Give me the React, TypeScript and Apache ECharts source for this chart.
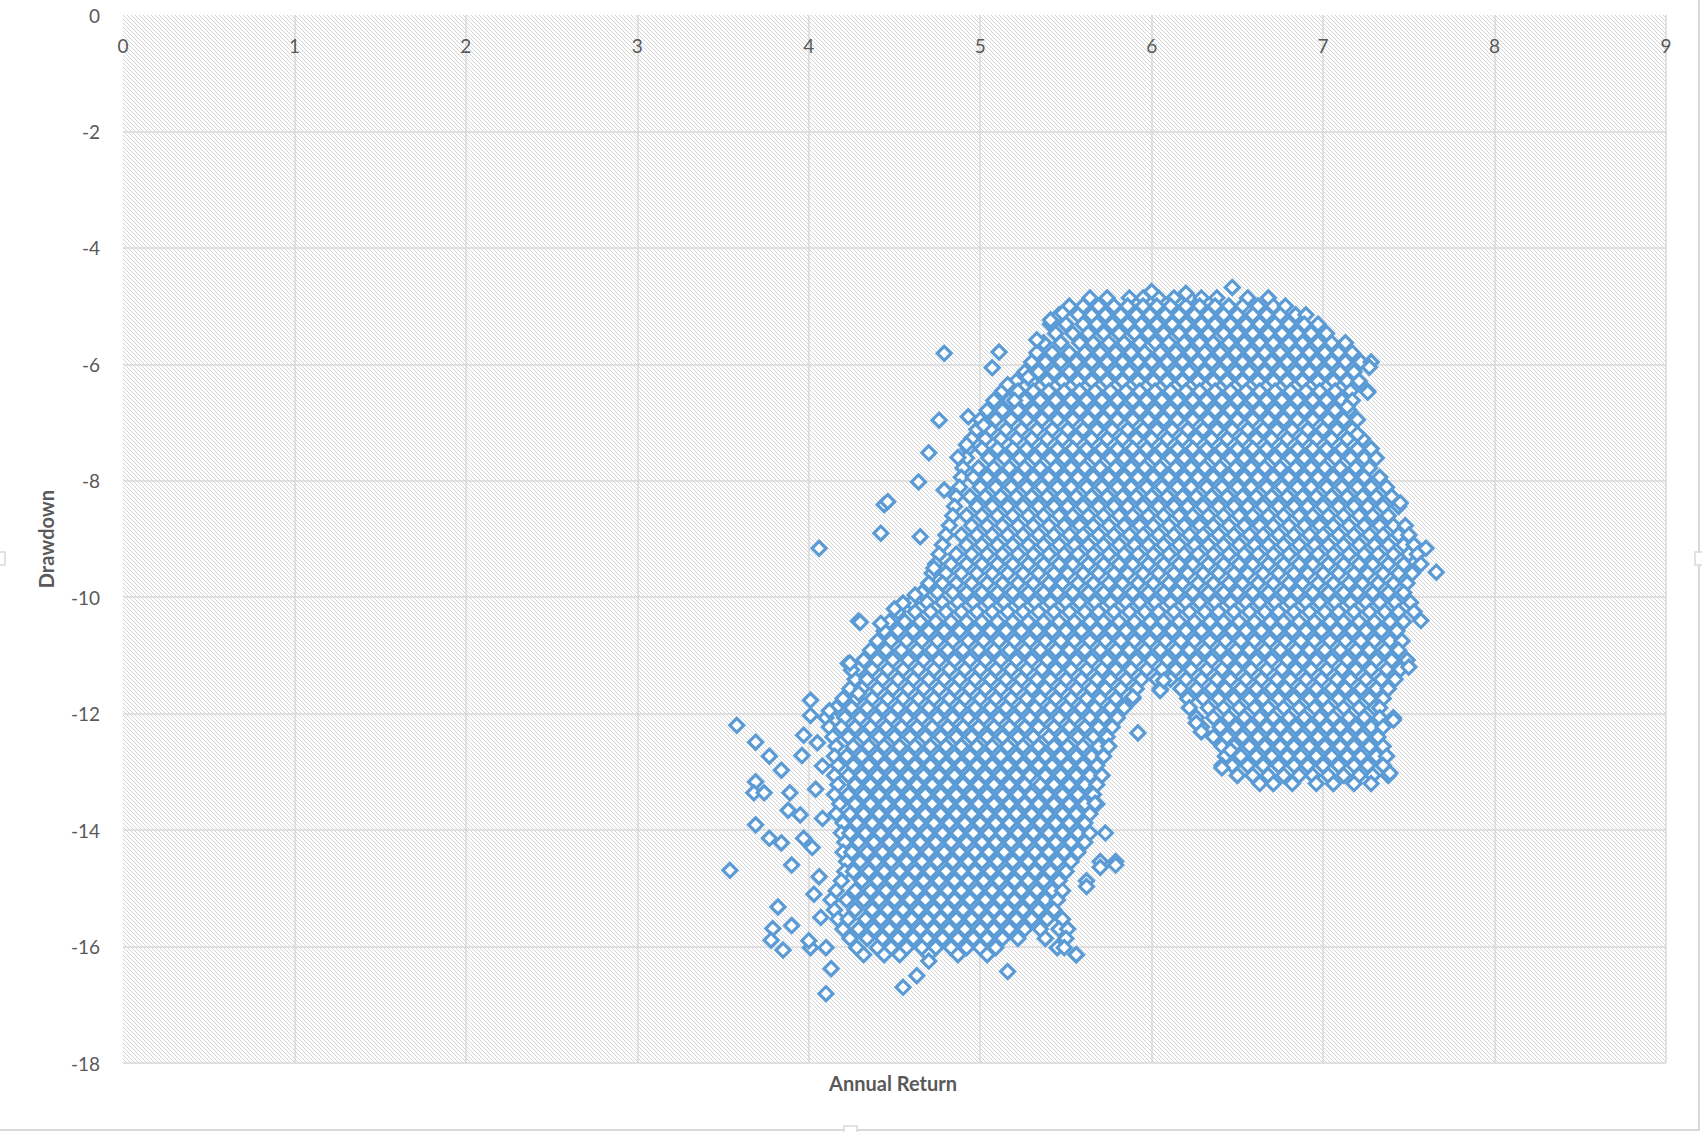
import React, { useEffect, useRef } from "react";
import * as echarts from "echarts";

const xTicks = [0, 1, 2, 3, 4, 5, 6, 7, 8, 9];
const yTicks = [0, -2, -4, -6, -8, -10, -12, -14, -16, -18];
const xTitle = "Annual Return";
const yTitle = "Drawdown";

// Rows of the dense cloud: [drawdown, annual returns read along that level]
const upperRows: [number, number[]][] = [
  [-4.86, [5.64, 5.74, 5.87, 5.95, 6.04, 6.13, 6.22, 6.29, 6.38, 6.56, 6.68]],
  [-5.0, [5.52, 5.6, 5.69, 5.78, 5.86, 5.95, 6.03, 6.11, 6.2, 6.28, 6.37, 6.45, 6.53, 6.62, 6.71, 6.78]],
  [-5.15, [5.46, 5.57, 5.65, 5.73, 5.82, 5.91, 5.99, 6.08, 6.16, 6.25, 6.33, 6.42, 6.5, 6.59, 6.67, 6.75, 6.84, 6.9]],
  [-5.31, [5.41, 5.5, 5.6, 5.68, 5.77, 5.86, 5.94, 6.03, 6.12, 6.2, 6.29, 6.37, 6.46, 6.55, 6.63, 6.72, 6.8, 6.89, 6.97]],
  [-5.47, [5.44, 5.54, 5.63, 5.72, 5.81, 5.9, 5.98, 6.07, 6.16, 6.24, 6.33, 6.42, 6.5, 6.59, 6.68, 6.76, 6.85, 6.93, 7.02]],
  [-5.63, [5.37, 5.47, 5.58, 5.66, 5.75, 5.84, 5.93, 6.02, 6.1, 6.19, 6.28, 6.36, 6.45, 6.54, 6.63, 6.71, 6.8, 6.88, 6.97, 7.05, 7.13]],
  [-5.8, [5.33, 5.42, 5.52, 5.61, 5.7, 5.79, 5.88, 5.96, 6.05, 6.14, 6.23, 6.31, 6.4, 6.49, 6.58, 6.66, 6.75, 6.84, 6.92, 7.01, 7.09, 7.17]],
  [-5.96, [5.3, 5.38, 5.47, 5.56, 5.65, 5.74, 5.83, 5.92, 6.0, 6.09, 6.18, 6.27, 6.35, 6.44, 6.53, 6.62, 6.7, 6.79, 6.88, 6.96, 7.05, 7.13, 7.22, 7.28]],
  [-6.13, [5.26, 5.34, 5.43, 5.52, 5.61, 5.7, 5.79, 5.87, 5.96, 6.05, 6.14, 6.22, 6.31, 6.4, 6.49, 6.57, 6.66, 6.75, 6.84, 6.92, 7.01, 7.1, 7.18]],
  [-6.29, [5.21, 5.3, 5.39, 5.48, 5.57, 5.65, 5.74, 5.83, 5.92, 6.01, 6.09, 6.18, 6.27, 6.36, 6.44, 6.53, 6.62, 6.71, 6.79, 6.88, 6.97, 7.06, 7.14, 7.21]],
  [-6.46, [5.13, 5.22, 5.31, 5.4, 5.49, 5.58, 5.67, 5.76, 5.85, 5.93, 6.02, 6.11, 6.2, 6.28, 6.37, 6.46, 6.55, 6.63, 6.72, 6.81, 6.9, 6.98, 7.07, 7.16, 7.26]],
  [-6.62, [5.08, 5.17, 5.26, 5.35, 5.44, 5.53, 5.62, 5.71, 5.8, 5.89, 5.97, 6.06, 6.15, 6.24, 6.32, 6.41, 6.5, 6.59, 6.67, 6.76, 6.85, 6.94, 7.02, 7.11, 7.17]],
  [-6.79, [5.04, 5.13, 5.22, 5.31, 5.4, 5.49, 5.58, 5.67, 5.76, 5.84, 5.93, 6.02, 6.11, 6.19, 6.28, 6.37, 6.46, 6.54, 6.63, 6.72, 6.81, 6.89, 6.98, 7.07, 7.15]],
  [-6.95, [5.0, 5.09, 5.18, 5.27, 5.36, 5.45, 5.54, 5.63, 5.72, 5.8, 5.89, 5.98, 6.07, 6.15, 6.24, 6.33, 6.42, 6.5, 6.59, 6.68, 6.77, 6.85, 6.94, 7.03, 7.12, 7.2]],
  [-7.12, [4.98, 5.06, 5.15, 5.24, 5.33, 5.42, 5.51, 5.6, 5.68, 5.77, 5.86, 5.95, 6.03, 6.12, 6.21, 6.3, 6.38, 6.47, 6.56, 6.65, 6.73, 6.82, 6.91, 7.0, 7.08, 7.17]],
  [-7.28, [4.95, 5.03, 5.12, 5.21, 5.3, 5.39, 5.48, 5.56, 5.65, 5.74, 5.83, 5.91, 6.0, 6.09, 6.18, 6.26, 6.35, 6.44, 6.53, 6.61, 6.7, 6.79, 6.88, 6.96, 7.05, 7.14, 7.23]],
  [-7.45, [4.93, 5.01, 5.1, 5.19, 5.27, 5.36, 5.45, 5.54, 5.62, 5.71, 5.8, 5.89, 5.97, 6.06, 6.15, 6.24, 6.32, 6.41, 6.5, 6.59, 6.67, 6.76, 6.85, 6.94, 7.02, 7.11, 7.2, 7.28]],
  [-7.61, [4.92, 5.05, 5.14, 5.23, 5.32, 5.41, 5.49, 5.58, 5.67, 5.76, 5.84, 5.93, 6.02, 6.11, 6.19, 6.28, 6.37, 6.46, 6.54, 6.63, 6.72, 6.81, 6.89, 6.98, 7.07, 7.16, 7.24, 7.31]],
  [-7.78, [4.9, 4.99, 5.08, 5.17, 5.26, 5.35, 5.44, 5.53, 5.61, 5.7, 5.79, 5.88, 5.96, 6.05, 6.14, 6.23, 6.31, 6.4, 6.49, 6.58, 6.66, 6.75, 6.84, 6.93, 7.01, 7.1, 7.19, 7.27]],
  [-7.94, [4.89, 4.96, 5.04, 5.13, 5.22, 5.31, 5.4, 5.49, 5.57, 5.66, 5.75, 5.84, 5.92, 6.01, 6.1, 6.19, 6.27, 6.36, 6.45, 6.54, 6.62, 6.71, 6.8, 6.89, 6.97, 7.06, 7.15, 7.24, 7.33]],
  [-8.11, [4.88, 5.0, 5.09, 5.18, 5.27, 5.36, 5.45, 5.53, 5.62, 5.71, 5.8, 5.88, 5.97, 6.06, 6.15, 6.23, 6.32, 6.41, 6.5, 6.58, 6.67, 6.76, 6.85, 6.93, 7.02, 7.11, 7.2, 7.28, 7.37]],
  [-8.27, [4.86, 4.94, 5.03, 5.12, 5.21, 5.3, 5.39, 5.48, 5.56, 5.65, 5.74, 5.83, 5.91, 6.0, 6.09, 6.18, 6.26, 6.35, 6.44, 6.53, 6.61, 6.7, 6.79, 6.88, 6.96, 7.05, 7.14, 7.23, 7.31, 7.4]],
  [-8.44, [4.85, 4.98, 5.07, 5.16, 5.25, 5.34, 5.43, 5.51, 5.6, 5.69, 5.78, 5.86, 5.95, 6.04, 6.13, 6.21, 6.3, 6.39, 6.48, 6.56, 6.65, 6.74, 6.83, 6.91, 7.0, 7.09, 7.18, 7.26, 7.35, 7.44]],
  [-8.6, [4.84, 4.92, 5.01, 5.1, 5.19, 5.28, 5.37, 5.46, 5.54, 5.63, 5.72, 5.81, 5.89, 5.98, 6.07, 6.16, 6.24, 6.33, 6.42, 6.51, 6.59, 6.68, 6.77, 6.86, 6.94, 7.03, 7.12, 7.21, 7.29, 7.38]],
  [-8.77, [4.82, 4.95, 5.04, 5.13, 5.22, 5.31, 5.4, 5.49, 5.58, 5.66, 5.75, 5.84, 5.93, 6.01, 6.1, 6.19, 6.28, 6.36, 6.45, 6.54, 6.63, 6.71, 6.8, 6.89, 6.98, 7.06, 7.15, 7.24, 7.33, 7.41, 7.48]],
  [-8.93, [4.8, 4.89, 4.98, 5.07, 5.16, 5.25, 5.34, 5.43, 5.52, 5.6, 5.69, 5.78, 5.87, 5.95, 6.04, 6.13, 6.22, 6.3, 6.39, 6.48, 6.57, 6.65, 6.74, 6.83, 6.92, 7.0, 7.09, 7.18, 7.27, 7.35, 7.44, 7.5]],
  [-9.1, [4.78, 4.92, 5.01, 5.1, 5.19, 5.28, 5.37, 5.46, 5.55, 5.63, 5.72, 5.81, 5.9, 5.98, 6.07, 6.16, 6.25, 6.33, 6.42, 6.51, 6.6, 6.68, 6.77, 6.86, 6.95, 7.03, 7.12, 7.21, 7.3, 7.38, 7.47, 7.53]],
  [-9.26, [4.76, 4.86, 4.95, 5.04, 5.13, 5.22, 5.31, 5.4, 5.49, 5.57, 5.66, 5.75, 5.84, 5.92, 6.01, 6.1, 6.19, 6.27, 6.36, 6.45, 6.54, 6.62, 6.71, 6.8, 6.89, 6.97, 7.06, 7.15, 7.24, 7.32, 7.41, 7.5, 7.55]],
  [-9.43, [4.74, 4.83, 4.92, 5.01, 5.1, 5.19, 5.28, 5.37, 5.46, 5.54, 5.63, 5.72, 5.81, 5.89, 5.98, 6.07, 6.16, 6.24, 6.33, 6.42, 6.51, 6.59, 6.68, 6.77, 6.86, 6.94, 7.03, 7.12, 7.21, 7.29, 7.38, 7.47, 7.57]],
  [-9.59, [4.72, 4.8, 4.89, 4.98, 5.07, 5.16, 5.25, 5.34, 5.43, 5.51, 5.6, 5.69, 5.78, 5.86, 5.95, 6.04, 6.13, 6.21, 6.3, 6.39, 6.48, 6.56, 6.65, 6.74, 6.83, 6.91, 7.0, 7.09, 7.18, 7.26, 7.35, 7.44, 7.52]],
  [-9.76, [4.7, 4.78, 4.86, 4.95, 5.04, 5.13, 5.22, 5.31, 5.4, 5.48, 5.57, 5.66, 5.75, 5.83, 5.92, 6.01, 6.1, 6.18, 6.27, 6.36, 6.45, 6.53, 6.62, 6.71, 6.8, 6.88, 6.97, 7.06, 7.15, 7.23, 7.32, 7.41, 7.49]],
  [-9.92, [4.66, 4.75, 4.84, 4.92, 5.01, 5.1, 5.19, 5.28, 5.37, 5.45, 5.54, 5.63, 5.72, 5.8, 5.89, 5.98, 6.07, 6.15, 6.24, 6.33, 6.42, 6.5, 6.59, 6.68, 6.77, 6.85, 6.94, 7.03, 7.12, 7.2, 7.29, 7.38, 7.47]],
  [-10.09, [4.6, 4.69, 4.78, 4.87, 4.96, 5.05, 5.14, 5.23, 5.32, 5.41, 5.5, 5.58, 5.67, 5.76, 5.85, 5.93, 6.02, 6.11, 6.2, 6.28, 6.37, 6.46, 6.55, 6.63, 6.72, 6.81, 6.9, 6.98, 7.07, 7.16, 7.25, 7.33, 7.42, 7.51]],
  [-10.25, [4.52, 4.62, 4.71, 4.8, 4.89, 4.98, 5.07, 5.16, 5.25, 5.34, 5.43, 5.52, 5.61, 5.69, 5.78, 5.87, 5.96, 6.04, 6.13, 6.22, 6.31, 6.39, 6.48, 6.57, 6.66, 6.74, 6.83, 6.92, 7.01, 7.09, 7.18, 7.27, 7.36, 7.44, 7.53]],
  [-10.42, [4.47, 4.56, 4.65, 4.74, 4.83, 4.92, 5.01, 5.1, 5.19, 5.28, 5.37, 5.46, 5.55, 5.64, 5.72, 5.81, 5.9, 5.99, 6.07, 6.16, 6.25, 6.34, 6.42, 6.51, 6.6, 6.69, 6.77, 6.86, 6.95, 7.04, 7.12, 7.21, 7.3, 7.39, 7.47]],
  [-10.58, [4.44, 4.52, 4.61, 4.7, 4.79, 4.88, 4.97, 5.06, 5.15, 5.24, 5.33, 5.42, 5.5, 5.59, 5.68, 5.77, 5.85, 5.94, 6.03, 6.12, 6.2, 6.29, 6.38, 6.47, 6.55, 6.64, 6.73, 6.82, 6.9, 6.99, 7.08, 7.17, 7.25, 7.34, 7.43]],
  [-10.75, [4.4, 4.48, 4.57, 4.66, 4.75, 4.84, 4.93, 5.02, 5.11, 5.2, 5.29, 5.38, 5.47, 5.55, 5.64, 5.73, 5.82, 5.9, 5.99, 6.08, 6.17, 6.25, 6.34, 6.43, 6.52, 6.6, 6.69, 6.78, 6.87, 6.95, 7.04, 7.13, 7.22, 7.3, 7.39, 7.46]],
  [-10.91, [4.36, 4.45, 4.54, 4.63, 4.72, 4.81, 4.9, 4.99, 5.08, 5.17, 5.26, 5.35, 5.44, 5.52, 5.61, 5.7, 5.79, 5.87, 5.96, 6.05, 6.14, 6.22, 6.31, 6.4, 6.49, 6.57, 6.66, 6.75, 6.84, 6.92, 7.01, 7.1, 7.19, 7.27, 7.36, 7.44]],
  [-11.08, [4.32, 4.4, 4.49, 4.58, 4.67, 4.76, 4.85, 4.94, 5.03, 5.12, 5.21, 5.3, 5.39, 5.48, 5.56, 5.65, 5.74, 5.83, 5.91, 6.0, 6.09, 6.18, 6.26, 6.35, 6.44, 6.53, 6.61, 6.7, 6.79, 6.88, 6.96, 7.05, 7.14, 7.23, 7.31, 7.4, 7.49]],
  [-11.24, [4.29, 4.37, 4.46, 4.55, 4.64, 4.73, 4.82, 4.91, 5.0, 5.09, 5.18, 5.27, 5.36, 5.44, 5.53, 5.62, 5.71, 5.79, 5.88, 5.97, 6.06, 6.14, 6.23, 6.32, 6.41, 6.49, 6.58, 6.67, 6.76, 6.84, 6.93, 7.02, 7.11, 7.19, 7.28, 7.37, 7.45]],
  [-11.41, [4.27, 4.34, 4.43, 4.52, 4.61, 4.7, 4.79, 4.88, 4.97, 5.06, 5.15, 5.24, 5.33, 5.41, 5.5, 5.59, 5.68, 5.76, 5.85, 5.94, 6.03, 6.11, 6.2, 6.29, 6.38, 6.46, 6.55, 6.64, 6.73, 6.81, 6.9, 6.99, 7.08, 7.16, 7.25, 7.34, 7.42]],
  [-11.57, [4.24, 4.31, 4.4, 4.49, 4.58, 4.67, 4.76, 4.85, 4.94, 5.03, 5.12, 5.21, 5.3, 5.38, 5.47, 5.56, 5.65, 5.73, 5.82, 5.91, 6.05, 6.17, 6.26, 6.35, 6.43, 6.52, 6.61, 6.7, 6.78, 6.87, 6.96, 7.05, 7.13, 7.22, 7.31, 7.38]],
];

const middleRows: [number, number[]][] = [
  [-11.74, [4.2, 4.28, 4.37, 4.46, 4.55, 4.64, 4.73, 4.82, 4.91, 5.0, 5.09, 5.18, 5.27, 5.35, 5.44, 5.53, 5.62, 5.7, 5.79, 5.89, 6.21, 6.3, 6.39, 6.48, 6.57, 6.65, 6.74, 6.83, 6.92, 7.0, 7.09, 7.18, 7.27, 7.35]],
  [-11.9, [4.16, 4.25, 4.34, 4.43, 4.52, 4.61, 4.7, 4.79, 4.88, 4.97, 5.06, 5.15, 5.24, 5.32, 5.41, 5.5, 5.59, 5.67, 5.76, 5.84, 6.22, 6.33, 6.42, 6.51, 6.6, 6.68, 6.77, 6.86, 6.95, 7.03, 7.12, 7.21, 7.3, 7.33]],
  [-12.07, [4.1, 4.21, 4.3, 4.39, 4.48, 4.57, 4.66, 4.75, 4.84, 4.93, 5.02, 5.11, 5.2, 5.29, 5.37, 5.46, 5.55, 5.64, 5.72, 5.8, 6.26, 6.36, 6.45, 6.54, 6.63, 6.71, 6.8, 6.89, 6.98, 7.06, 7.15, 7.24, 7.33, 7.41]],
  [-12.23, [4.12, 4.19, 4.27, 4.36, 4.45, 4.54, 4.63, 4.72, 4.81, 4.9, 4.99, 5.08, 5.17, 5.26, 5.34, 5.43, 5.52, 5.61, 5.69, 5.77, 6.29, 6.4, 6.49, 6.58, 6.67, 6.75, 6.84, 6.93, 7.02, 7.1, 7.19, 7.28, 7.35]],
  [-12.4, [4.14, 4.23, 4.32, 4.41, 4.5, 4.59, 4.68, 4.77, 4.86, 4.95, 5.04, 5.13, 5.22, 5.31, 5.4, 5.48, 5.57, 5.66, 5.74, 6.36, 6.44, 6.53, 6.62, 6.71, 6.79, 6.88, 6.97, 7.06, 7.14, 7.23, 7.32]],
  [-12.56, [4.16, 4.26, 4.35, 4.44, 4.53, 4.62, 4.71, 4.8, 4.89, 4.98, 5.07, 5.16, 5.25, 5.34, 5.43, 5.51, 5.6, 5.69, 5.75, 6.41, 6.48, 6.57, 6.66, 6.75, 6.83, 6.92, 7.01, 7.1, 7.18, 7.27, 7.35]],
  [-12.73, [4.15, 4.22, 4.31, 4.4, 4.49, 4.58, 4.67, 4.76, 4.85, 4.94, 5.03, 5.12, 5.21, 5.3, 5.38, 5.47, 5.56, 5.65, 5.72, 6.43, 6.52, 6.61, 6.7, 6.79, 6.87, 6.96, 7.05, 7.14, 7.22, 7.31, 7.37]],
  [-12.89, [4.17, 4.26, 4.35, 4.44, 4.53, 4.62, 4.71, 4.8, 4.89, 4.98, 5.07, 5.16, 5.25, 5.34, 5.42, 5.51, 5.6, 5.68, 6.41, 6.47, 6.56, 6.65, 6.74, 6.83, 6.91, 7.0, 7.09, 7.18, 7.26, 7.35]],
  [-13.06, [4.15, 4.23, 4.31, 4.4, 4.49, 4.58, 4.67, 4.76, 4.85, 4.94, 5.03, 5.12, 5.21, 5.29, 5.38, 5.47, 5.56, 5.64, 5.71, 6.5, 6.59, 6.68, 6.77, 6.86, 6.94, 7.03, 7.12, 7.21, 7.29, 7.38]],
  [-13.2, [6.63, 6.71, 6.82, 6.96, 7.06, 7.18, 7.28]],
];

const lowerRows: [number, number[]][] = [
  [-13.22, [4.17, 4.27, 4.36, 4.45, 4.54, 4.63, 4.72, 4.81, 4.9, 4.99, 5.08, 5.17, 5.26, 5.35, 5.43, 5.52, 5.61, 5.68]],
  [-13.39, [4.15, 4.23, 4.32, 4.41, 4.5, 4.59, 4.68, 4.77, 4.86, 4.95, 5.04, 5.13, 5.22, 5.3, 5.39, 5.48, 5.57, 5.66]],
  [-13.55, [4.18, 4.27, 4.36, 4.45, 4.54, 4.63, 4.72, 4.81, 4.9, 4.99, 5.08, 5.17, 5.26, 5.34, 5.43, 5.52, 5.61, 5.68]],
  [-13.72, [4.16, 4.24, 4.32, 4.41, 4.5, 4.59, 4.68, 4.77, 4.86, 4.95, 5.04, 5.13, 5.21, 5.3, 5.39, 5.48, 5.56, 5.64]],
  [-13.88, [4.2, 4.28, 4.37, 4.46, 4.55, 4.64, 4.73, 4.82, 4.91, 5.0, 5.09, 5.17, 5.26, 5.35, 5.44, 5.52, 5.61]],
  [-14.05, [4.19, 4.24, 4.33, 4.42, 4.51, 4.6, 4.69, 4.78, 4.87, 4.96, 5.05, 5.13, 5.22, 5.31, 5.4, 5.48, 5.57, 5.64, 5.73]],
  [-14.21, [4.21, 4.29, 4.38, 4.47, 4.56, 4.65, 4.74, 4.83, 4.92, 5.01, 5.09, 5.18, 5.27, 5.36, 5.44, 5.53, 5.61]],
  [-14.38, [4.2, 4.25, 4.34, 4.43, 4.52, 4.61, 4.7, 4.79, 4.88, 4.97, 5.05, 5.14, 5.23, 5.32, 5.4, 5.49, 5.57]],
  [-14.54, [4.22, 4.3, 4.39, 4.48, 4.57, 4.66, 4.75, 4.84, 4.93, 5.01, 5.1, 5.19, 5.28, 5.36, 5.45, 5.53, 5.7, 5.79]],
  [-14.71, [4.21, 4.26, 4.35, 4.44, 4.53, 4.62, 4.71, 4.8, 4.89, 4.97, 5.06, 5.15, 5.24, 5.32, 5.41, 5.5]],
  [-14.87, [4.19, 4.31, 4.4, 4.49, 4.58, 4.67, 4.76, 4.85, 4.93, 5.02, 5.11, 5.2, 5.28, 5.37, 5.46, 5.62]],
  [-15.04, [4.16, 4.27, 4.36, 4.45, 4.54, 4.63, 4.72, 4.81, 4.89, 4.98, 5.07, 5.16, 5.24, 5.33, 5.42, 5.48]],
  [-15.2, [4.13, 4.22, 4.32, 4.41, 4.5, 4.59, 4.68, 4.77, 4.85, 4.94, 5.03, 5.12, 5.2, 5.29, 5.38, 5.45]],
  [-15.37, [4.15, 4.27, 4.37, 4.46, 4.55, 4.64, 4.73, 4.81, 4.9, 4.99, 5.08, 5.16, 5.25, 5.34, 5.43]],
  [-15.53, [4.17, 4.23, 4.33, 4.42, 4.51, 4.6, 4.69, 4.77, 4.86, 4.95, 5.04, 5.12, 5.21, 5.3, 5.39, 5.48]],
  [-15.7, [4.2, 4.29, 4.38, 4.47, 4.56, 4.65, 4.73, 4.82, 4.91, 5.0, 5.08, 5.17, 5.26, 5.35, 5.46, 5.51]],
  [-15.86, [4.24, 4.34, 4.43, 4.52, 4.61, 4.69, 4.78, 4.87, 4.96, 5.04, 5.13, 5.22, 5.38, 5.5]],
  [-16.02, [4.01, 4.1, 4.28, 4.4, 4.48, 4.57, 4.66, 4.74, 4.83, 4.92, 5.0, 5.09, 5.45, 5.49]],
  [-16.14, [4.32, 4.44, 4.53, 4.7, 4.87, 5.04, 5.56]],
];

// Scattered points around the edges of the cloud: [annual return, drawdown]
const edgePoints: [number, number][] = [
  [6.47, -4.68], [6.0, -4.75], [6.2, -4.78], [4.79, -5.81], [5.11, -5.79], [5.07, -6.06], [5.28, -6.22],
  [4.76, -6.96], [4.93, -6.9], [4.92, -7.38], [4.7, -7.52], [4.87, -7.6], [4.64, -8.02], [4.79, -8.16],
  [4.65, -8.96], [4.73, -9.5], [4.62, -9.96], [7.27, -6.05], [7.26, -6.48], [7.14, -6.73], [7.2, -7.2],
  [7.45, -8.38], [7.6, -9.16], [7.66, -9.57], [7.57, -10.4], [7.5, -11.2], [7.41, -12.11], [7.39, -13.02],
  [4.06, -9.16], [4.44, -8.41], [4.46, -8.36], [4.42, -8.9], [4.29, -10.41], [4.23, -11.14], [4.25, -11.25],
  [4.5, -10.2], [4.55, -10.1], [4.42, -10.45], [4.3, -10.43], [4.24, -11.13], [4.29, -11.65],
  [3.58, -12.2], [3.54, -14.69], [3.69, -12.49], [3.77, -12.73], [3.84, -12.97], [3.69, -13.17],
  [3.68, -13.36], [3.74, -13.36], [3.69, -13.91], [3.77, -14.14], [3.84, -14.22], [3.9, -14.6],
  [3.97, -14.14], [4.01, -11.77], [4.01, -12.03], [3.97, -12.37], [3.96, -12.72], [3.89, -13.36],
  [3.88, -13.66], [3.95, -13.74], [3.82, -15.32], [3.79, -15.69], [3.9, -15.64], [3.78, -15.89],
  [3.85, -16.06], [4.13, -16.38], [4.1, -16.81], [4.55, -16.7], [4.63, -16.5], [5.16, -16.43],
  [5.56, -16.14], [4.7, -16.25], [5.79, -14.6], [5.7, -14.64], [5.62, -14.97], [5.67, -13.54],
  [5.92, -12.33], [5.89, -11.71], [6.05, -11.6], [6.07, -11.43], [6.26, -12.16], [6.29, -12.31],
  [6.46, -12.63], [6.41, -12.93], [4.05, -12.5], [4.08, -12.9], [4.04, -13.3], [4.08, -13.8],
  [4.02, -14.3], [4.06, -14.8], [4.03, -15.1], [4.07, -15.5], [4.0, -15.9], [4.12, -11.95],
  [5.16, -6.35], [5.2, -6.62], [5.02, -7.05], [5.41, -5.24], [5.48, -5.12], [5.33, -5.58],
];

const FONT = "Lato, 'Noto Sans', sans-serif";
const LABEL = "#595959";

export default function App() {
  const ref = useRef<HTMLDivElement>(null);

  useEffect(() => {
    document.body.style.margin = "0";
    if (!ref.current) return;
    const chart = echarts.init(ref.current, undefined, { renderer: "svg" });

    const tile = document.createElement("canvas");
    tile.width = 4;
    tile.height = 4;
    const ctx = tile.getContext("2d")!;
    ctx.fillStyle = "#ffffff";
    ctx.fillRect(0, 0, 4, 4);
    ctx.fillStyle = "#d4d4d4";
    for (let i = 0; i < 4; i++) ctx.fillRect(i, i, 1, 1);

    const data: [number, number][] = [];
    [...upperRows, ...middleRows, ...lowerRows].forEach(([y, xs]) => {
      xs.forEach((x) => data.push([x, y]));
    });
    edgePoints.forEach((p) => data.push(p));

    chart.setOption({
      animation: false,
      grid: {
        left: 123,
        top: 15,
        right: 36,
        bottom: 69,
        show: true,
        borderWidth: 0,
        backgroundColor: { image: tile, repeat: "repeat" },
      },
      xAxis: {
        type: "value",
        min: xTicks[0],
        max: xTicks[xTicks.length - 1],
        interval: 1,
        position: "top",
        axisLine: { show: false },
        axisTick: { show: false },
        axisLabel: {
          inside: true,
          margin: 21,
          fontSize: 19,
          color: LABEL,
          fontFamily: FONT,
        },
        splitLine: {
          show: true,
          showMinLine: false,
          lineStyle: { color: "#d9d9d9", width: 1.5 },
        },
      },
      yAxis: {
        type: "value",
        min: yTicks[yTicks.length - 1],
        max: yTicks[0],
        interval: 2,
        axisLine: { show: false },
        axisTick: { show: false },
        axisLabel: {
          margin: 23,
          fontSize: 19,
          color: LABEL,
          fontFamily: FONT,
        },
        splitLine: {
          show: true,
          showMaxLine: false,
          lineStyle: { color: "#d9d9d9", width: 1.5 },
        },
      },
      series: [
        {
          type: "scatter",
          data,
          symbol: "diamond",
          symbolSize: 14,
          progressive: 0,
          large: false,
          itemStyle: {
            color: "#ffffff",
            borderColor: "#5b9bd5",
            borderWidth: 3.2,
            opacity: 1,
          },
        },
      ],
      graphic: [
        {
          type: "text",
          x: 893,
          y: 1083,
          style: {
            text: xTitle,
            fontSize: 20,
            fontWeight: "bold",
            fontFamily: FONT,
            fill: LABEL,
            textAlign: "center",
            textVerticalAlign: "middle",
          },
        },
        {
          type: "text",
          x: 46,
          y: 539,
          rotation: Math.PI / 2,
          style: {
            text: yTitle,
            fontSize: 20,
            fontWeight: "bold",
            fontFamily: FONT,
            fill: LABEL,
            textAlign: "center",
            textVerticalAlign: "middle",
          },
        },
        { type: "line", shape: { x1: 1699, y1: 0, x2: 1699, y2: 1130 }, style: { stroke: "#d9d9d9", lineWidth: 2 } },
        { type: "line", shape: { x1: 0, y1: 1130, x2: 1700, y2: 1130 }, style: { stroke: "#d9d9d9", lineWidth: 2 } },
        { type: "rect", shape: { x: 1695, y: 552, width: 8, height: 13 }, style: { fill: "#fff", stroke: "#d9d9d9", lineWidth: 1.5 } },
        { type: "rect", shape: { x: -3, y: 552, width: 8, height: 13 }, style: { fill: "#fff", stroke: "#d9d9d9", lineWidth: 1.5 } },
        { type: "rect", shape: { x: 844, y: 1126, width: 13, height: 8 }, style: { fill: "#fff", stroke: "#d9d9d9", lineWidth: 1.5 } },
      ],
    });

    return () => chart.dispose();
  }, []);

  return (
    <div
      ref={ref}
      style={{ position: "absolute", left: 0, top: 0, width: 1702, height: 1132, background: "#fff" }}
    />
  );
}
